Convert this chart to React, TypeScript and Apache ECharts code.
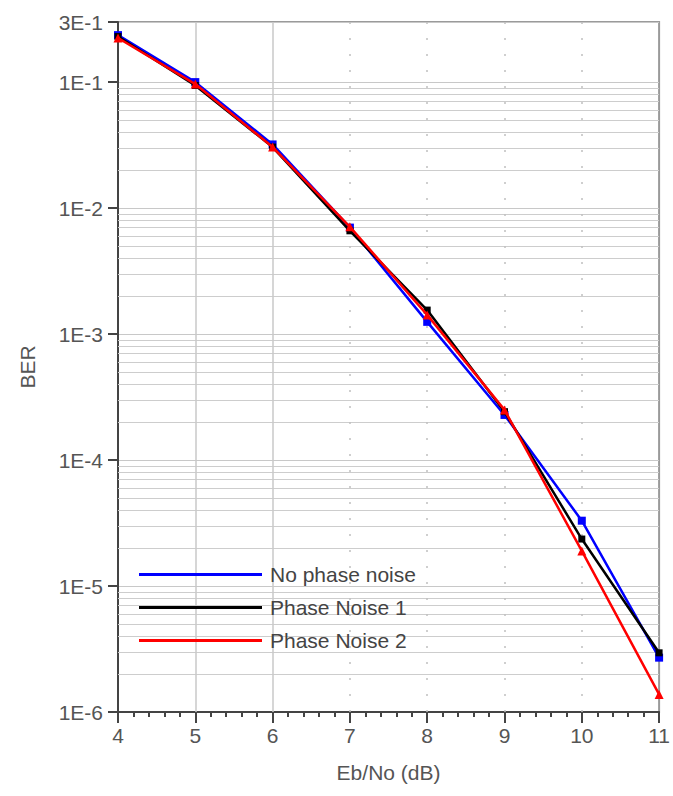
import React, { useEffect, useRef } from "react";
import * as echarts from "echarts";

const ebNo = [4, 5, 6, 7, 8, 9, 10, 11];
const noPhaseNoise = [0.236, 0.1, 0.032, 7.0e-3, 1.25e-3, 2.28e-4, 3.3e-5, 2.7e-6];
const phaseNoise1 = [0.23, 0.094, 0.0305, 6.6e-3, 1.55e-3, 2.42e-4, 2.36e-5, 2.95e-6];
const phaseNoise2 = [0.224, 0.0965, 0.0305, 7.1e-3, 1.42e-3, 2.5e-4, 1.9e-5, 1.38e-6];
const seriesNames = ["No phase noise", "Phase Noise 1", "Phase Noise 2"];
const xSolidGrid = [5, 6];
const xDottedGrid = [7, 8, 9, 10];

const FONT = "Liberation Sans, Arial, sans-serif";
const TXT = "#555";
const FS = 21;

function fmtLog(v: number): string {
  const e = Math.floor(Math.log10(v) + 1e-9);
  const m = Math.round(v / Math.pow(10, e));
  return `${m}E${e}`;
}

export default function App() {
  const ref = useRef<HTMLDivElement>(null);
  useEffect(() => {
    if (!ref.current) return;
    const chart = echarts.init(ref.current, undefined, { renderer: "svg" });

    const minorY: number[] = [];
    for (let e = -6; e <= -2; e++) {
      for (let m = 2; m <= 9; m++) minorY.push(m * Math.pow(10, e));
    }
    const gridLines: any[] = [];
    minorY.forEach((v) =>
      gridLines.push({ yAxis: v, lineStyle: { color: "#cdcdcd", width: 1.2, type: "solid" } })
    );
    xSolidGrid.forEach((v) =>
      gridLines.push({ xAxis: v, lineStyle: { color: "#c8c8c8", width: 1.5, type: "solid" } })
    );
    xDottedGrid.forEach((v) =>
      gridLines.push({ xAxis: v, lineStyle: { color: "#c0c0c0", width: 1.5, type: [2, 14] } })
    );

    const mk = (vals: number[]) => ebNo.map((x, i) => [x, vals[i]]);

    chart.setOption({
      animation: false,
      backgroundColor: "#fff",
      grid: {
        left: 118,
        right: 12,
        top: 22,
        bottom: 84,
        show: true,
        borderColor: "#9a9a9a",
        borderWidth: 2,
      },
      legend: {
        data: seriesNames,
        orient: "vertical",
        left: 134,
        top: 559,
        itemWidth: 123,
        itemHeight: 3,
        itemGap: 12,
        icon: "rect",
        textStyle: { color: "#444", fontSize: FS, fontFamily: FONT, padding: [0, 0, 0, 3] },
      },
      xAxis: {
        type: "value",
        min: 4,
        max: 11,
        interval: 1,
        name: "Eb/No (dB)",
        nameLocation: "middle",
        nameGap: 50,
        nameTextStyle: { color: TXT, fontSize: FS, fontFamily: FONT },
        axisLine: { lineStyle: { color: "#444", width: 2 } },
        axisTick: { length: 11, lineStyle: { color: "#444", width: 2 } },
        minorTick: { show: true, splitNumber: 5, length: 5, lineStyle: { color: "#444", width: 2 } },
        axisLabel: { color: TXT, fontSize: FS, fontFamily: FONT, margin: 13 },
        splitLine: { show: false },
      },
      yAxis: {
        type: "log",
        logBase: 10,
        min: 1e-6,
        max: 0.3,
        name: "BER",
        nameLocation: "middle",
        nameGap: 80,
        nameRotate: 90,
        nameTextStyle: { color: TXT, fontSize: FS, fontFamily: FONT },
        axisLine: { show: true, lineStyle: { color: "#444", width: 2 } },
        axisTick: { show: true, length: 10, lineStyle: { color: "#444", width: 2 } },
        axisLabel: {
          color: TXT,
          fontSize: FS,
          fontFamily: FONT,
          margin: 15,
          formatter: (v: number) => fmtLog(v),
        },
        splitLine: { show: true, lineStyle: { color: "#c8c8c8", width: 1.2 } },
      },
      series: [
        {
          type: "line",
          name: "grid",
          data: [],
          silent: true,
          z: 1,
          markLine: {
            silent: true,
            z: 1,
            precision: 12,
            symbol: ["none", "none"],
            label: { show: false },
            data: gridLines,
          },
        },
        {
          type: "line",
          name: seriesNames[0],
          data: mk(noPhaseNoise),
          color: "#0000ff",
          lineStyle: { width: 2.5 },
          symbol: "rect",
          symbolSize: 8,
          itemStyle: { color: "#0000ff" },
          z: 3,
        },
        {
          type: "line",
          name: seriesNames[1],
          data: mk(phaseNoise1),
          color: "#000000",
          lineStyle: { width: 2.5 },
          symbol: "rect",
          symbolSize: 7,
          itemStyle: { color: "#000000" },
          z: 4,
        },
        {
          type: "line",
          name: seriesNames[2],
          data: mk(phaseNoise2),
          color: "#ff0000",
          lineStyle: { width: 2.5 },
          symbol: "triangle",
          symbolSize: 9,
          itemStyle: { color: "#ff0000" },
          z: 5,
        },
      ],
    });
    return () => chart.dispose();
  }, []);
  return (
    <div
      ref={ref}
      style={{ position: "absolute", left: 0, top: 0, width: 673, height: 796 }}
    />
  );
}
